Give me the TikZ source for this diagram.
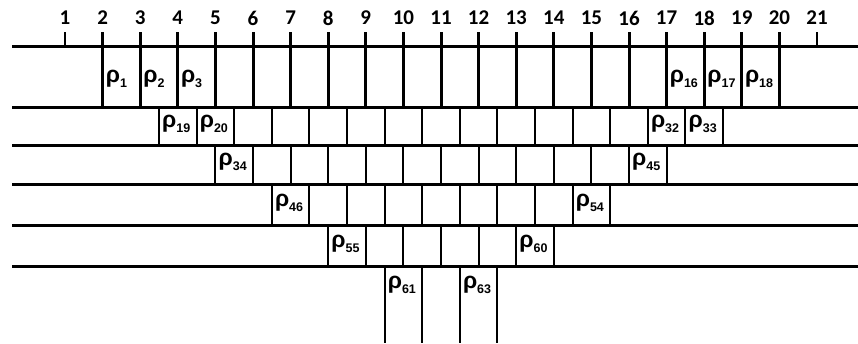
\documentclass[tikz,border=0pt]{standalone}
\usepackage{fontspec}
\newfontfamily\numfont{Carlito}
\newfontfamily\rhofont{Liberation Sans}
\usetikzlibrary{positioning}

% rho with a lowered index
\newcommand{\rholab}[1]{{\fontsize{23}{23}\selectfont ρ}\raisebox{-5pt}{\fontsize{12.5}{12.5}\selectfont #1}}

\begin{document}
\begin{tikzpicture}[
    x=1pt, y=-1pt,
    rail/.style={line width=3pt},
    wall/.style={line width=2pt},
    lab/.style={anchor=base west, inner sep=0pt, font=\rhofont\bfseries},
    num/.style={inner sep=0pt, font=\numfont\bfseries\fontsize{21}{21}\selectfont}
  ]
  \useasboundingbox (0,0) rectangle (858,343);

  % rails
  \foreach \y in {46,107,145,184,225,266}
    \draw[rail] (12,\y) -- (858,\y);

  % scale on top
  \foreach \i in {1,...,21}
    \node[num] (n\i) at ({27.4+37.6*\i},18) {\i};
  \foreach \i in {2,...,20}
    \draw[rail] ({27.4+37.6*\i},32) -- ({27.4+37.6*\i},107);
  \foreach \i in {1,21}
    \draw[wall] ({27.4+37.6*\i},32) -- ({27.4+37.6*\i},46);

  % lower rows of cells
  \foreach \a/\n/\t/\b in {3.5/15/107/145, 5/12/145/184, 6.5/9/184/225,
                           8/6/225/266, 9.5/3/266/343}
    \foreach \k in {0,...,\n}
      \draw[wall] ({27.4+37.6*(\a+\k)},\t) -- ({27.4+37.6*(\a+\k)},\b);

  % cell labels
  \foreach \r/\i/\y in {1/2/82, 2/3/82, 3/4/82, 16/17/82, 17/18/82, 18/19/82,
                        19/3.5/127, 20/4.5/127, 32/16.5/127, 33/17.5/127,
                        34/5/165, 45/16/165,
                        46/6.5/206, 54/14.5/206,
                        55/8/247, 60/13/247,
                        61/9.5/288, 63/11.5/288}
    \node[lab] (r\r) at ({30.4+37.6*\i},\y) {\rholab{\r}};
\end{tikzpicture}
\end{document}
